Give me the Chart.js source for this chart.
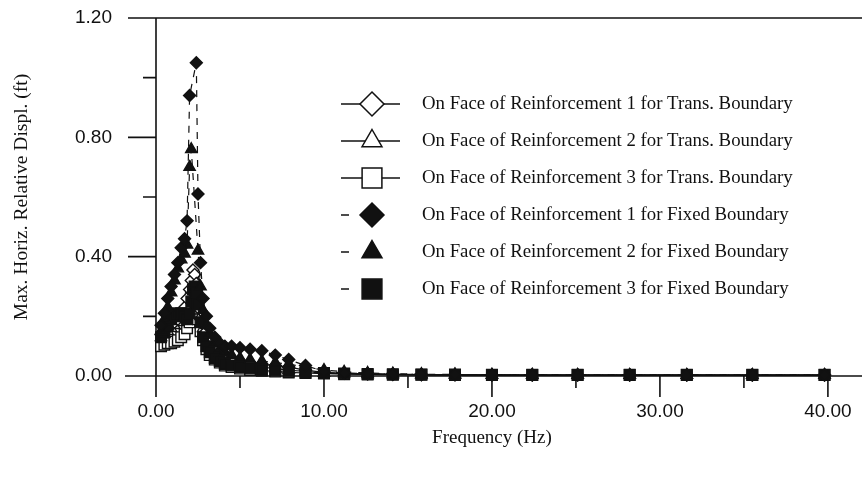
<!DOCTYPE html>
<html>
<head>
<meta charset="utf-8">
<script src="https://cdn.jsdelivr.net/npm/chart.js@4.4.0/dist/chart.umd.min.js"></script>
<style>
html,body{margin:0;padding:0;background:#fff;}
#wrap{width:862px;height:480px;position:relative;}
</style>
</head>
<body>
<div id="wrap"><canvas id="chart"></canvas></div>
<script>
// frequencies (Hz)
const freq = [0.3,0.5,0.7,0.9,1.1,1.3,1.5,1.7,1.85,2.0,2.1,2.2,2.3,2.4,2.5,2.65,2.8,3.0,3.2,3.5,3.8,4.1,4.5,5.0,5.6,6.3,7.1,7.9,8.9,10.0,11.2,12.6,14.1,15.8,17.8,20.0,22.4,25.1,28.2,31.6,35.5,39.8];

const trans1 = [0.14,0.15,0.16,0.17,0.18,0.19,0.21,0.23,0.26,0.29,0.32,0.355,0.34,0.31,0.27,0.22,0.18,0.15,0.12,0.10,0.08,0.07,0.06,0.05,0.045,0.04,0.035,0.03,0.02,0.012,0.009,0.007,0.005,0.004,0.004,0.003,0.003,0.003,0.003,0.003,0.003,0.003];
const trans2 = [0.13,0.14,0.15,0.16,0.17,0.18,0.19,0.21,0.23,0.26,0.29,0.31,0.33,0.30,0.26,0.20,0.16,0.13,0.10,0.08,0.065,0.055,0.05,0.04,0.035,0.03,0.025,0.02,0.015,0.01,0.008,0.006,0.005,0.004,0.004,0.003,0.003,0.003,0.003,0.003,0.003,0.003];
const trans3 = [0.10,0.105,0.11,0.11,0.115,0.12,0.13,0.14,0.16,0.18,0.20,0.22,0.24,0.22,0.19,0.15,0.12,0.09,0.07,0.055,0.045,0.035,0.03,0.025,0.02,0.018,0.015,0.012,0.01,0.008,0.006,0.005,0.004,0.004,0.003,0.003,0.003,0.003,0.003,0.003,0.003,0.003];
const fixed1 = [0.17,0.21,0.26,0.30,0.34,0.38,0.43,0.46,0.52,0.94,null,null,null,1.05,0.61,0.38,0.26,0.20,0.16,0.13,0.11,0.10,0.10,0.095,0.09,0.085,0.07,0.055,0.035,0.015,0.01,0.008,0.006,0.005,0.004,0.004,0.003,0.003,0.003,0.003,0.003,0.003];
const fixed2 = [0.15,0.19,0.23,0.28,0.32,0.36,0.39,0.41,0.44,0.70,0.76,null,null,null,0.42,0.30,0.22,0.17,0.14,0.11,0.09,0.08,0.07,0.06,0.055,0.05,0.045,0.04,0.03,0.02,0.014,0.01,0.008,0.006,0.005,0.004,0.004,0.003,0.003,0.003,0.003,0.003];
const fixed3 = [0.13,0.15,0.17,0.19,0.20,0.21,0.21,0.20,0.19,0.21,0.25,0.29,0.30,0.28,0.24,0.18,0.13,0.10,0.08,0.06,0.05,0.04,0.035,0.03,0.025,0.02,0.018,0.015,0.012,0.01,0.008,0.007,0.006,0.005,0.005,0.004,0.004,0.004,0.004,0.004,0.004,0.004];

const seriesLabels = [
  'On Face of Reinforcement 1 for Trans. Boundary',
  'On Face of Reinforcement 2 for Trans. Boundary',
  'On Face of Reinforcement 3 for Trans. Boundary',
  'On Face of Reinforcement 1 for Fixed Boundary',
  'On Face of Reinforcement 2 for Fixed Boundary',
  'On Face of Reinforcement 3 for Fixed Boundary'
];
const seriesValues = [trans1, trans2, trans3, fixed1, fixed2, fixed3];

const xTicks = [0,5,10,15,20,25,30,35,40];
const yTicks = [0,0.2,0.4,0.6,0.8,1.0,1.2];
const xTitle = 'Frequency (Hz)';

const shapes = ['rectRot','triangle','rect','rectRot','triangle','rect'];
const radii = [6,6.5,7.5,6,6.5,7.5];
const legendRadii = [12,11.5,14,12,11.5,14];

function toPoints(vals)
{
    let pts = [];
    for(let i = 0; i < freq.length; i++)
    {
        if(vals[i] === null)
            continue;
        pts.push({x: freq[i], y: vals[i]});
    }
    return pts;
}

let datasets = [];
for(let i = 0; i < seriesValues.length; i++)
{
    let fixed = i >= 3;
    datasets.push({
        label: seriesLabels[i],
        data: toPoints(seriesValues[i]),
        borderColor: '#111',
        borderWidth: 1.2,
        borderDash: fixed ? [7,7] : [],
        pointStyle: shapes[i],
        pointRadius: radii[i],
        pointBorderWidth: 1.4,
        pointBorderColor: '#111',
        pointBackgroundColor: fixed ? '#111' : '#fff',
        tension: 0,
        clip: false,
        order: fixed ? 0 : 1
    });
}

function marker(ctx, style, r, x, y, filled)
{
    ctx.save();
    ctx.beginPath();
    if(style === 'rectRot')
    {
        ctx.moveTo(x, y - r); ctx.lineTo(x + r, y); ctx.lineTo(x, y + r); ctx.lineTo(x - r, y);
    }
    else if(style === 'triangle')
    {
        let h = r * 0.866;
        ctx.moveTo(x, y - r); ctx.lineTo(x + h, y + r / 2); ctx.lineTo(x - h, y + r / 2);
    }
    else
    {
        let s = r * Math.SQRT1_2;
        ctx.rect(x - s, y - s, 2 * s, 2 * s);
    }
    ctx.closePath();
    ctx.fillStyle = filled ? '#111' : '#fff';
    ctx.fill();
    ctx.lineWidth = 1.5;
    ctx.strokeStyle = '#111';
    ctx.stroke();
    ctx.restore();
}

const axesPlugin = {
    id: 'axesLines',
    beforeDatasetsDraw(chart) {
        const ctx = chart.ctx;
        const xs = chart.scales.x, ys = chart.scales.y;
        const x0 = xs.getPixelForValue(0), y0 = ys.getPixelForValue(0), yTop = ys.getPixelForValue(1.2);
        ctx.save();
        ctx.strokeStyle = '#111';
        ctx.lineWidth = 1.6;
        ctx.beginPath();
        ctx.moveTo(x0, yTop); ctx.lineTo(x0, y0 + 21);
        ctx.moveTo(x0 - 31, y0); ctx.lineTo(chart.width, y0);
        ctx.moveTo(x0 - 28, yTop); ctx.lineTo(chart.width, yTop);
        for(const v of xTicks)
        {
            const px = xs.getPixelForValue(v);
            ctx.moveTo(px, y0); ctx.lineTo(px, y0 + (v % 10 === 0 ? 21 : 12));
        }
        for(const v of yTicks)
        {
            const py = ys.getPixelForValue(v);
            const major = Math.round(v * 10) % 4 === 0;
            ctx.moveTo(x0 - (major ? 28 : 13), py); ctx.lineTo(x0, py);
        }
        ctx.stroke();

        // x axis title, centred under the 0-40 range
        ctx.font = '19px "Liberation Serif", "Times New Roman", serif';
        ctx.fillStyle = '#111';
        ctx.textAlign = 'center';
        ctx.textBaseline = 'middle';
        ctx.fillText(xTitle, xs.getPixelForValue(20), 438);
        ctx.restore();
    },
    afterDraw(chart) {
        const ctx = chart.ctx;
        ctx.save();
        ctx.font = '18.8px "Liberation Serif", "Times New Roman", serif';
        ctx.fillStyle = '#111';
        ctx.textBaseline = 'middle';
        for(let i = 0; i < seriesLabels.length; i++)
        {
            const y = 104 + i * 37;
            ctx.strokeStyle = '#111';
            ctx.lineWidth = 1.5;
            ctx.beginPath();
            if(i < 3) { ctx.moveTo(341, y); ctx.lineTo(400, y); }
            else { ctx.moveTo(341, y); ctx.lineTo(349, y); }
            ctx.stroke();
            marker(ctx, shapes[i], legendRadii[i], 372, y, i >= 3);
            ctx.fillText(seriesLabels[i], 422, y);
        }
        ctx.restore();
    }
};

const sansFont = {family: '"Liberation Sans", Arial, sans-serif', size: 19};
const serifFont = {family: '"Liberation Serif", "Times New Roman", serif', size: 19.5};

new Chart(document.getElementById('chart'), {
    type: 'line',
    data: {datasets: datasets},
    options: {
        responsive: true,
        maintainAspectRatio: false,
        animation: false,
        layout: {padding: {top: 18, right: 0, left: 0, bottom: 0}},
        plugins: {legend: {display: false}, tooltip: {enabled: false}},
        scales: {
            x: {
                type: 'linear',
                min: 0,
                max: 41.5,
                afterBuildTicks: (s) => { s.ticks = xTicks.map(v => ({value: v})); },
                afterFit: (s) => { s.height = 104; s.paddingLeft = 0; s.paddingRight = 0; },
                grid: {drawOnChartArea: false, drawTicks: true, tickLength: 20, color: 'rgba(0,0,0,0)'},
                border: {display: false},
                ticks: {
                    padding: 4,
                    color: '#111',
                    font: sansFont,
                    maxRotation: 0,
                    autoSkip: false,
                    callback: (v) => v % 10 === 0 ? v.toFixed(2) : ''
                },
                title: {display: false}
            },
            y: {
                min: 0,
                max: 1.2,
                afterBuildTicks: (s) => { s.ticks = yTicks.map(v => ({value: v})); },
                afterFit: (s) => { s.width = 156; s.paddingTop = 0; s.paddingBottom = 0; },
                grid: {drawOnChartArea: false, drawTicks: true, tickLength: 28, color: 'rgba(0,0,0,0)'},
                border: {display: false},
                ticks: {
                    padding: 16,
                    color: '#111',
                    font: sansFont,
                    autoSkip: false,
                    callback: (v) => Math.round(v * 10) % 4 === 0 ? v.toFixed(2) : ''
                },
                title: {display: true, text: 'Max. Horiz. Relative Displ. (ft)', color: '#111', font: serifFont, padding: {top: 10, bottom: 0}}
            }
        }
    },
    plugins: [axesPlugin]
});
</script>
</body>
</html>
